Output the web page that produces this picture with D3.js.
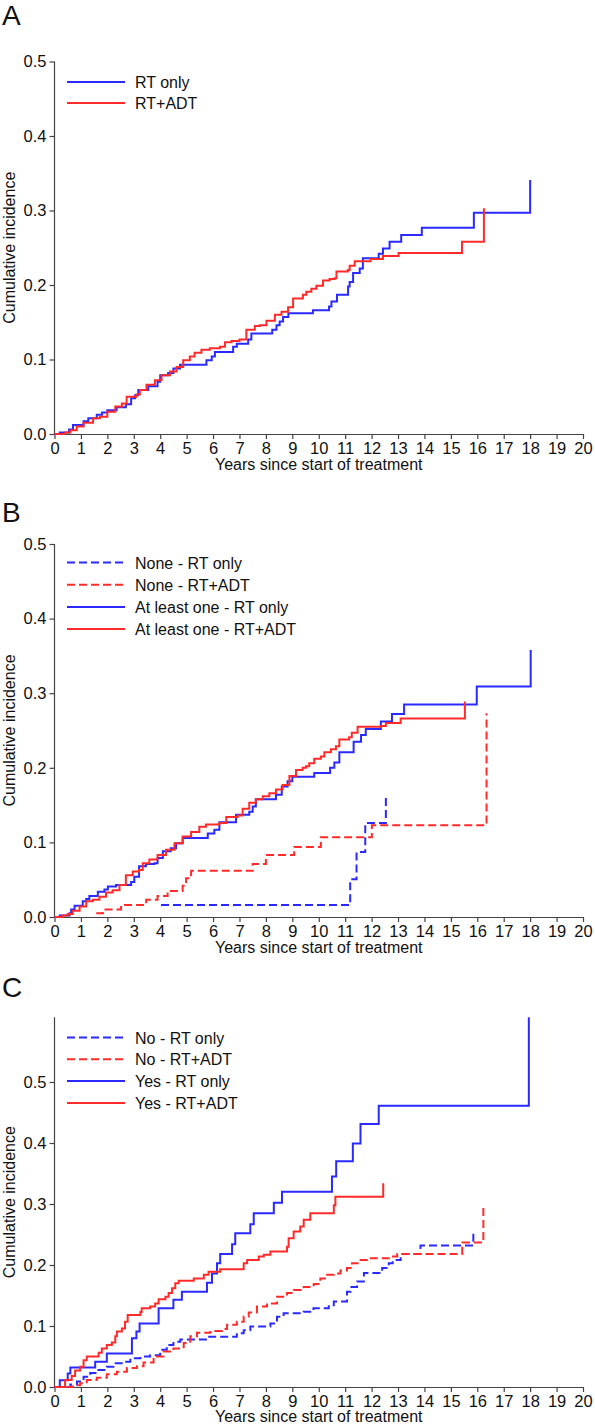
<!DOCTYPE html>
<html><head><meta charset="utf-8">
<script src="https://cdnjs.cloudflare.com/ajax/libs/d3/7.8.5/d3.min.js"></script>
<style>
html,body{margin:0;padding:0;background:#fff;}
svg{display:block;font-family:"Liberation Sans",Arial,sans-serif;}
</style></head>
<body>
<svg id="chart" width="595" height="1428"></svg>
<script>
// ---------- DATA ----------
const xTickValues = d3.range(0, 21);
const yTickValues = [0, 0.1, 0.2, 0.3, 0.4, 0.5];
const xAxisLabel = "Years since start of treatment";
const yAxisLabel = "Cumulative incidence";
const panelLetters = ["A", "B", "C"];

const legendA = ["RT only", "RT+ADT"];
const legendB = ["None - RT only", "None - RT+ADT", "At least one - RT only", "At least one - RT+ADT"];
const legendC = ["No - RT only", "No - RT+ADT", "Yes - RT only", "Yes - RT+ADT"];

// Panel A
const aRtOnly = [[0,0],[0.2,0.002],[0.55,0.006],[0.7,0.012],[1.1,0.017],[1.28,0.021],[1.6,0.026],[1.8,0.029],[2.0,0.032],[2.35,0.036],[2.7,0.040],[2.9,0.048],[3.05,0.052],[3.17,0.059],[3.55,0.064],[3.9,0.070],[4.0,0.079],[4.3,0.082],[4.5,0.088],[4.75,0.093],[5.75,0.099],[5.95,0.104],[6.07,0.110],[6.76,0.117],[6.9,0.121],[7.33,0.127],[7.45,0.135],[8.24,0.140],[8.4,0.146],[8.52,0.151],[8.65,0.157],[8.85,0.162],[9.78,0.166],[10.39,0.171],[10.48,0.178],[10.69,0.187],[11.11,0.198],[11.17,0.204],[11.3,0.216],[11.55,0.222],[11.67,0.236],[12.27,0.242],[12.43,0.249],[12.68,0.258],[13.12,0.267],[13.9,0.277],[15.87,0.297],[18.0,0.297],[18.0,0.341]];
const aRtAdt = [[0,0],[0.4,0.002],[0.6,0.005],[0.84,0.010],[1.1,0.015],[1.46,0.021],[1.72,0.023],[2.0,0.030],[2.3,0.037],[2.55,0.041],[2.73,0.050],[3.1,0.053],[3.23,0.059],[3.48,0.066],[3.8,0.072],[4.05,0.079],[4.37,0.084],[4.62,0.090],[4.87,0.099],[5.12,0.104],[5.3,0.109],[5.56,0.113],[5.88,0.115],[6.26,0.117],[6.45,0.123],[6.7,0.125],[7.0,0.127],[7.26,0.140],[7.58,0.145],[7.77,0.146],[8.02,0.152],[8.34,0.160],[8.59,0.164],[8.84,0.170],[9.03,0.182],[9.4,0.187],[9.53,0.191],[9.72,0.195],[9.91,0.199],[10.16,0.206],[10.41,0.208],[10.6,0.209],[10.67,0.218],[11.1,0.220],[11.17,0.226],[11.36,0.232],[11.96,0.235],[12.43,0.239],[13.02,0.243],[15.42,0.258],[16.25,0.258],[16.25,0.303]];

// Panel B
const bNoneRtOnly = [[4.03,0.016],[11.19,0.0505],[11.43,0.087],[11.76,0.126],[12.54,0.126],[12.54,0.163]];
const bNoneRtAdt = [[1.58,0.005],[1.83,0.010],[2.52,0.016],[3.47,0.023],[3.9,0.028],[4.28,0.035],[4.85,0.042],[4.98,0.052],[5.17,0.062],[7.5,0.071],[8.0,0.083],[9.07,0.094],[10.08,0.107],[12.01,0.123],[16.35,0.123],[16.35,0.273]];
const bOneRtOnly = [[0,0],[0.2,0.002],[0.57,0.005],[0.63,0.010],[0.76,0.015],[1.07,0.021],[1.2,0.024],[1.32,0.028],[1.64,0.034],[1.89,0.037],[2.02,0.041],[2.33,0.043],[2.9,0.047],[3.02,0.054],[3.2,0.068],[3.46,0.071],[3.78,0.072],[3.9,0.079],[4.1,0.088],[4.4,0.092],[4.6,0.099],[4.85,0.106],[5.8,0.112],[6.05,0.117],[6.24,0.127],[6.87,0.137],[7.37,0.141],[7.5,0.148],[7.62,0.158],[8.38,0.164],[8.6,0.175],[8.82,0.182],[9.0,0.188],[9.83,0.193],[10.43,0.200],[10.59,0.207],[10.78,0.221],[11.32,0.235],[11.6,0.244],[11.78,0.252],[12.35,0.262],[12.77,0.272],[13.23,0.285],[15.98,0.309],[18.02,0.309],[18.02,0.358]];
const bOneRtAdt = [[0,0],[0.3,0.002],[0.5,0.004],[0.69,0.0085],[0.95,0.014],[1.2,0.021],[1.45,0.023],[1.7,0.027],[1.95,0.033],[2.2,0.036],[2.46,0.043],[2.7,0.056],[2.96,0.061],[3.2,0.063],[3.34,0.072],[3.59,0.077],[3.9,0.083],[4.22,0.090],[4.54,0.099],[4.85,0.108],[5.17,0.114],[5.48,0.121],[5.73,0.124],[6.24,0.126],[6.5,0.134],[6.93,0.136],[7.12,0.145],[7.37,0.153],[7.62,0.158],[7.88,0.162],[8.13,0.166],[8.38,0.171],[8.63,0.177],[8.89,0.189],[9.14,0.197],[9.39,0.200],[9.52,0.202],[9.64,0.206],[9.83,0.212],[10.08,0.215],[10.21,0.221],[10.46,0.225],[10.65,0.229],[10.78,0.238],[11.15,0.241],[11.25,0.247],[11.47,0.255],[12.35,0.256],[12.54,0.260],[13.1,0.266],[15.53,0.266],[15.53,0.289]];

// Panel C
const cNoRtOnly = [[0,0],[0.6,0.004],[0.85,0.009],[1.1,0.017],[1.35,0.023],[1.6,0.028],[1.98,0.033],[2.23,0.039],[2.6,0.0415],[2.87,0.047],[3.25,0.050],[3.62,0.052],[4.0,0.061],[4.25,0.069],[4.5,0.074],[4.76,0.078],[5.77,0.0825],[6.9,0.088],[7.16,0.093],[7.41,0.099],[8.17,0.104],[8.42,0.115],[8.67,0.121],[9.43,0.1235],[9.8,0.129],[10.38,0.134],[10.57,0.140],[11.07,0.156],[11.2,0.164],[11.45,0.173],[11.71,0.187],[12.4,0.195],[12.65,0.203],[12.8,0.208],[13.1,0.218],[13.85,0.232],[15.85,0.232],[15.85,0.257]];
const cNoRtAdt = [[0,0],[0.7,0.003],[0.97,0.006],[1.22,0.0115],[1.6,0.015],[1.98,0.021],[2.36,0.025],[2.74,0.031],[3.12,0.034],[3.37,0.040],[3.75,0.050],[4.13,0.058],[4.5,0.063],[4.89,0.072],[5.14,0.083],[5.39,0.089],[5.9,0.092],[6.34,0.095],[6.53,0.102],[6.9,0.107],[7.16,0.115],[7.35,0.122],[7.66,0.132],[8.04,0.137],[8.42,0.148],[8.8,0.154],[9.05,0.159],[9.43,0.164],[9.81,0.169],[10.06,0.178],[10.32,0.184],[10.57,0.186],[10.82,0.191],[11.07,0.195],[11.26,0.203],[11.52,0.208],[11.83,0.211],[12.65,0.214],[12.97,0.218],[15.43,0.237],[16.23,0.237],[16.23,0.296]];
const cYesRtOnly = [[0,0],[0.2,0.011],[0.5,0.022],[0.6,0.032],[1.54,0.0415],[1.98,0.055],[2.93,0.080],[3.1,0.091],[3.22,0.104],[3.94,0.129],[4.5,0.143],[4.82,0.156],[5.77,0.171],[5.96,0.186],[6.15,0.203],[6.27,0.218],[6.72,0.234],[6.84,0.252],[7.41,0.267],[7.54,0.285],[8.3,0.302],[8.61,0.320],[10.5,0.345],[10.66,0.370],[11.29,0.399],[11.58,0.431],[12.27,0.461],[17.95,0.461],[17.95,0.606]];
const cYesRtAdt = [[0,0],[0.4,0.0115],[0.65,0.018],[0.78,0.027],[0.97,0.033],[1.1,0.044],[1.22,0.050],[1.67,0.056],[1.79,0.063],[1.98,0.069],[2.17,0.073],[2.3,0.083],[2.36,0.091],[2.55,0.096],[2.67,0.107],[2.77,0.118],[3.25,0.123],[3.3,0.129],[3.62,0.132],[3.81,0.137],[3.94,0.144],[4.2,0.148],[4.32,0.154],[4.45,0.162],[4.57,0.170],[4.7,0.174],[5.27,0.178],[5.65,0.184],[5.83,0.189],[6.27,0.193],[7.16,0.203],[7.29,0.208],[7.73,0.214],[7.92,0.217],[8.17,0.222],[8.8,0.230],[8.86,0.244],[9.05,0.255],[9.3,0.263],[9.43,0.274],[9.68,0.285],[10.57,0.298],[10.63,0.312],[12.44,0.312],[12.44,0.334]];

// ---------- DRAWING ----------
const BLUE = "#2a2aff", RED = "#ff2a2a", AXIS = "#444";
const svg = d3.select("#chart");
svg.append("rect").attr("width",595).attr("height",1428).attr("fill","#fff");

const panels = [
  {letter: panelLetters[0], letterY: 25, y0: 434, y5: 61.5, axisMax: 0.5, legendY: 82, legendStep: 21, xLabDy: 36,
   legend: legendA, series: [{d:aRtOnly,c:BLUE,dash:null},{d:aRtAdt,c:RED,dash:null}],
   legendStyle: [{c:BLUE,dash:null},{c:RED,dash:null}]},
  {letter: panelLetters[1], letterY: 522, y0: 917, y5: 544, axisMax: 0.5, legendY: 562.5, legendStep: 22.2, xLabDy: 36,
   legend: legendB,
   series: [{d:bNoneRtOnly,c:BLUE,dash:"8,4"},{d:bNoneRtAdt,c:RED,dash:"8,4"},{d:bOneRtOnly,c:BLUE,dash:null},{d:bOneRtAdt,c:RED,dash:null}],
   legendStyle: [{c:BLUE,dash:"8,4"},{c:RED,dash:"8,4"},{c:BLUE,dash:null},{c:RED,dash:null}]},
  {letter: panelLetters[2], letterY: 997, y0: 1387, y5: 1082, axisMax: 0.606, legendY: 1037.5, legendStep: 21.8, xLabDy: 35,
   legend: legendC,
   series: [{d:cNoRtOnly,c:BLUE,dash:"8,4"},{d:cNoRtAdt,c:RED,dash:"8,4"},{d:cYesRtOnly,c:BLUE,dash:null},{d:cYesRtAdt,c:RED,dash:null}],
   legendStyle: [{c:BLUE,dash:"8,4"},{c:RED,dash:"8,4"},{c:BLUE,dash:null},{c:RED,dash:null}]}
];

const x = d3.scaleLinear().domain([0,20]).range([54.5, 583]);
const FS = 16.5;

panels.forEach(p => {
  const y = d3.scaleLinear().domain([0,0.5]).range([p.y0, p.y5]);
  const g = svg.append("g");

  g.append("text").attr("x", 2).attr("y", p.letterY).attr("font-size", 28).attr("fill","#111").text(p.letter);

  // y axis
  const yAx = g.append("g").attr("transform", `translate(${x(0)},0)`)
    .call(d3.axisLeft(y).tickValues(yTickValues).tickFormat(d3.format(".1f")).tickSize(5).tickPadding(3).tickSizeOuter(0));
  yAx.select(".domain").attr("d", `M0,${y(0)}V${y(p.axisMax)}`);
  yAx.selectAll("path,line").attr("stroke", AXIS).attr("stroke-width", 1.2);
  yAx.selectAll("text").attr("font-size", FS).attr("fill","#111").attr("font-family","Liberation Sans, Arial, sans-serif");

  // x axis
  const xAx = g.append("g").attr("transform", `translate(0,${y(0)})`)
    .call(d3.axisBottom(x).tickValues(xTickValues).tickFormat(d3.format("d")).tickSize(5).tickPadding(3).tickSizeOuter(0));
  xAx.selectAll("path,line").attr("stroke", AXIS).attr("stroke-width", 1.2);
  xAx.selectAll("text").attr("font-size", FS).attr("fill","#111").attr("font-family","Liberation Sans, Arial, sans-serif");

  g.append("text").attr("x", (x(0)+x(20))/2).attr("y", y(0)+p.xLabDy).attr("text-anchor","middle")
    .attr("font-size", 16).attr("fill","#111").text(xAxisLabel);
  g.append("text").attr("transform", `translate(15,${(y(0)+y(p.axisMax))/2}) rotate(-90)`).attr("text-anchor","middle")
    .attr("font-size", 16).attr("fill","#111").text(yAxisLabel);

  // curves
  const line = d3.line().x(d => x(d[0])).y(d => y(d[1])).curve(d3.curveStepAfter);
  p.series.forEach(s => {
    g.append("path").attr("d", line(s.d)).attr("fill","none").attr("stroke", s.c)
      .attr("stroke-width", 2).attr("stroke-dasharray", s.dash);
  });

  // legend
  p.legend.forEach((lab, i) => {
    const ly = p.legendY + i*p.legendStep;
    const st = p.legendStyle[i];
    g.append("line").attr("x1",67).attr("x2",125).attr("y1",ly).attr("y2",ly)
      .attr("stroke", st.c).attr("stroke-width",2).attr("stroke-dasharray", st.dash);
    g.append("text").attr("x",135).attr("y",ly+6).attr("font-size",16).attr("fill","#111").text(lab);
  });
});
</script>
</body></html>
